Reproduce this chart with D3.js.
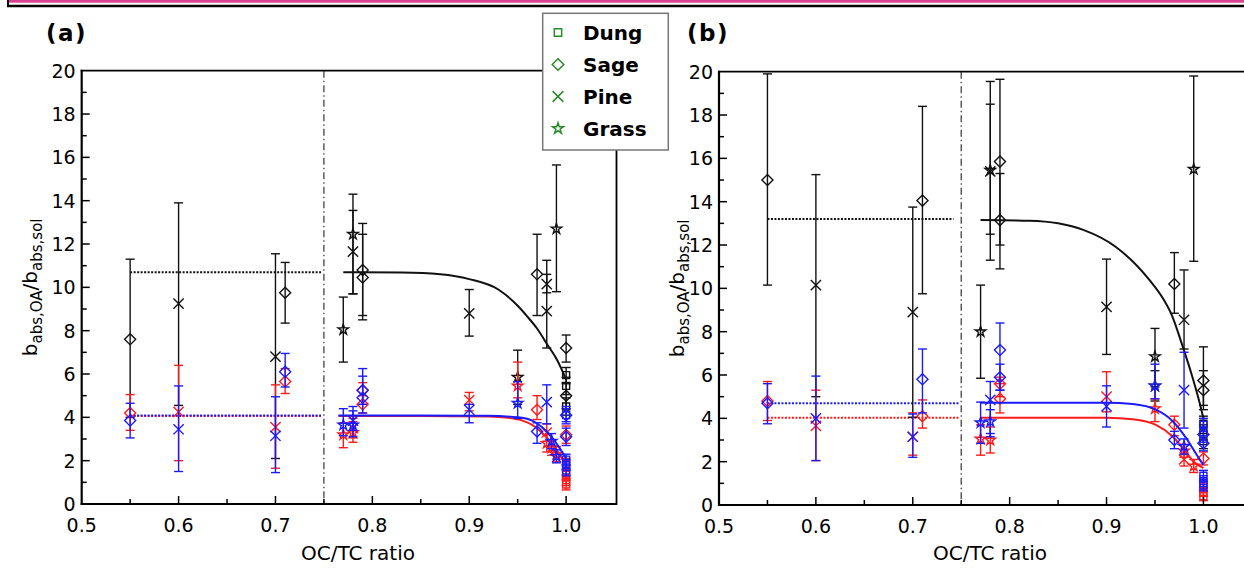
<!DOCTYPE html>
<html lang="en">
<head>
  <meta charset="UTF-8">
  <title>OC/TC ratio</title>
  <script src="https://cdn.jsdelivr.net/npm/d3@7"></script>
  <style>
  body { margin: 0; background: #fff; }
  svg text { font-family: "DejaVu Sans", Verdana, sans-serif; fill: #000; }
  .tick-label { font-size: 19px; }
  .axis-title { font-size: 20px; }
  .panel-tag { font-size: 23px; font-weight: bold; letter-spacing: 1.5px; }
  .legend text { font-size: 20px; font-weight: bold; }
  </style>
</head>
<body>
<svg id="chart" width="1244" height="572"></svg>
<script>
// [OC/TC, value, lower, upper, source]   D = Dung, S = Sage, P = Pine, G = Grass
const aBlack = [
  [0.55, 7.6, 4.0, 11.3, 'S'], [0.60, 9.25, 4.55, 13.9, 'P'], [0.70, 6.8, 2.1, 11.55, 'P'],
  [0.71, 9.75, 8.35, 11.15, 'S'], [0.77, 8.05, 6.55, 9.55, 'G'], [0.78, 12.45, 9.7, 14.3, 'G'],
  [0.78, 11.65, 9.7, 13.55, 'P'], [0.79, 10.8, 8.5, 12.95, 'S'], [0.79, 10.45, 8.7, 12.45, 'S'],
  [0.90, 8.8, 7.75, 9.9, 'P'], [0.95, 5.85, 4.6, 7.1, 'G'], [0.97, 10.6, 8.7, 12.45, 'S'],
  [0.98, 10.15, 9.75, 11.25, 'P'], [0.98, 8.9, 7.2, 10.6, 'P'], [0.99, 12.7, 9.8, 15.65, 'G'],
  [1.00, 7.2, 6.55, 7.8, 'S'], [1.00, 5.0, 4.4, 5.6, 'S'], [1.00, 5.95, 5.55, 6.3, 'D'],
  [1.00, 5.45, 5.05, 5.85, 'D'], [1.00, 4.5, 4.1, 4.9, 'D']
];
const aRed = [
  [0.55, 4.2, 3.4, 5.05, 'S'], [0.60, 4.25, 2.0, 6.4, 'P'], [0.70, 3.55, 1.65, 5.5, 'P'],
  [0.71, 5.65, 5.1, 6.25, 'S'], [0.77, 3.2, 2.6, 3.75, 'G'], [0.78, 3.3, 2.85, 3.8, 'G'],
  [0.78, 3.5, 3.05, 3.95, 'P'], [0.79, 5.25, 4.6, 5.6, 'S'], [0.79, 4.6, 4.2, 5.0, 'S'],
  [0.90, 4.8, 4.3, 5.15, 'P'], [0.95, 5.45, 4.9, 6.55, 'G'], [0.97, 4.35, 3.9, 5.0, 'S'],
  [0.98, 3.3, 2.9, 3.7, 'P'], [0.98, 2.8, 2.4, 3.2, 'G'], [0.985, 2.6, 2.25, 2.95, 'G'],
  [0.99, 2.3, 1.95, 2.65, 'G'], [1.00, 3.2, 2.8, 3.6, 'S'], [1.00, 1.85, 1.6, 2.1, 'D'],
  [1.00, 1.35, 1.1, 1.6, 'D'], [1.00, 1.1, 0.85, 1.35, 'D'], [1.00, 0.9, 0.65, 1.15, 'D']
];
const aBlue = [
  [0.55, 3.85, 3.05, 4.65, 'S'], [0.60, 3.45, 1.5, 5.45, 'P'], [0.70, 3.15, 1.45, 4.95, 'P'],
  [0.71, 6.1, 5.4, 6.95, 'S'], [0.77, 3.65, 3.15, 4.4, 'G'], [0.78, 3.65, 3.1, 4.5, 'G'],
  [0.78, 3.85, 3.4, 4.3, 'P'], [0.79, 4.9, 4.2, 6.25, 'S'], [0.79, 5.25, 4.6, 5.9, 'S'],
  [0.90, 4.35, 3.75, 4.6, 'P'], [0.95, 4.65, 3.95, 5.65, 'G'], [0.97, 3.35, 2.8, 3.75, 'S'],
  [0.98, 4.7, 3.7, 5.5, 'P'], [0.985, 2.9, 2.55, 3.25, 'G'], [0.99, 2.2, 1.9, 2.5, 'G'],
  [1.00, 4.1, 3.7, 4.5, 'S'], [1.00, 3.1, 2.7, 3.5, 'S'], [1.00, 4.1, 3.8, 4.4, 'D'],
  [1.00, 2.05, 1.8, 2.3, 'D'], [1.00, 1.8, 1.55, 2.05, 'D'], [1.00, 1.55, 1.3, 1.8, 'D']
];

const bBlack = [
  [0.55, 15.0, 10.15, 19.9, 'S'], [0.60, 10.15, 5.0, 15.25, 'P'], [0.70, 8.9, 4.05, 13.75, 'P'],
  [0.71, 14.05, 9.75, 18.4, 'S'], [0.77, 8.0, 5.85, 10.15, 'G'], [0.78, 15.45, 11.3, 19.55, 'G'],
  [0.78, 15.4, 12.5, 18.5, 'P'], [0.79, 15.85, 12.0, 19.65, 'S'], [0.79, 13.15, 10.9, 15.3, 'S'],
  [0.90, 9.15, 6.95, 11.35, 'P'], [0.95, 6.85, 5.45, 8.15, 'G'], [0.95, 5.5, 4.8, 6.2, 'G'],
  [0.97, 10.2, 8.85, 11.65, 'S'], [0.98, 8.55, 7.2, 10.85, 'P'], [0.99, 15.5, 11.25, 19.8, 'G'],
  [1.00, 5.75, 4.6, 7.3, 'S'], [1.00, 5.3, 4.4, 6.2, 'S'], [1.00, 3.75, 3.4, 4.1, 'D'],
  [1.00, 3.35, 3.0, 3.7, 'D'], [1.00, 2.95, 2.6, 3.3, 'D']
];
const bRed = [
  [0.55, 4.8, 3.9, 5.7, 'S'], [0.60, 3.65, 2.05, 5.3, 'P'], [0.70, 3.15, 2.3, 4.25, 'P'],
  [0.71, 4.1, 3.55, 4.85, 'S'], [0.77, 3.05, 2.3, 3.7, 'G'], [0.78, 3.0, 2.4, 3.6, 'G'],
  [0.79, 4.9, 4.25, 5.6, 'S'], [0.79, 5.6, 5.0, 5.9, 'S'], [0.90, 5.0, 4.3, 6.15, 'P'],
  [0.95, 4.45, 3.85, 4.9, 'G'], [0.97, 3.7, 3.2, 4.1, 'S'], [0.98, 2.1, 1.8, 2.4, 'P'],
  [0.98, 2.5, 2.2, 2.8, 'G'], [0.99, 1.8, 1.5, 2.1, 'G'], [1.00, 2.15, 1.85, 2.45, 'S'],
  [1.00, 0.85, 0.65, 1.05, 'D'], [1.00, 0.6, 0.4, 0.8, 'D'], [1.00, 0.4, 0.2, 0.6, 'D']
];
const bBlue = [
  [0.55, 4.7, 3.75, 5.6, 'S'], [0.60, 4.0, 2.05, 5.95, 'P'], [0.70, 3.15, 2.2, 4.2, 'P'],
  [0.71, 5.8, 4.25, 7.2, 'S'], [0.77, 3.8, 2.85, 4.75, 'G'], [0.78, 4.85, 3.15, 5.7, 'P'],
  [0.78, 3.85, 3.3, 4.4, 'G'], [0.79, 7.15, 5.3, 8.4, 'S'], [0.79, 5.9, 5.3, 6.5, 'S'],
  [0.90, 4.55, 3.6, 5.5, 'P'], [0.95, 5.5, 4.9, 6.5, 'G'], [0.97, 3.0, 2.6, 3.4, 'S'],
  [0.98, 5.3, 3.55, 7.05, 'P'], [0.98, 2.7, 2.35, 3.05, 'G'], [1.00, 3.25, 2.9, 3.6, 'S'],
  [1.00, 2.85, 2.5, 3.2, 'S'], [1.00, 3.7, 3.4, 4.0, 'D'], [1.00, 1.35, 1.1, 1.6, 'D'],
  [1.00, 1.1, 0.85, 1.35, 'D'], [1.00, 0.9, 0.65, 1.15, 'D']
];

// fitted curves
const aBlackCurve = [[0.77, 10.7], [0.83, 10.68], [0.87, 10.6], [0.90, 10.38], [0.93, 9.9], [0.95, 9.15],
  [0.96, 8.65], [0.97, 8.1], [0.98, 7.4], [0.99, 6.7], [0.995, 6.25], [1.0, 5.75]];
const aRedCurve = [[0.765, 4.06], [0.85, 4.06], [0.92, 4.04], [0.94, 3.98], [0.955, 3.85], [0.965, 3.65],
  [0.975, 3.3], [0.985, 2.8], [0.993, 2.3], [1.0, 1.8]];
const aBlueCurve = [[0.765, 4.08], [0.85, 4.08], [0.92, 4.07], [0.95, 4.0], [0.965, 3.85], [0.975, 3.55],
  [0.985, 3.1], [0.993, 2.6], [1.0, 2.1]];
const bBlackCurve = [[0.77, 13.15], [0.82, 13.12], [0.85, 13.0], [0.876, 12.7], [0.91, 11.9], [0.944, 10.4],
  [0.958, 9.55], [0.968, 8.7], [0.978, 7.4], [0.988, 6.0], [0.995, 4.9], [1.0, 4.0]];
const bRedCurve = [[0.77, 4.03], [0.90, 4.03], [0.927, 3.96], [0.951, 3.7], [0.968, 3.17], [0.98, 2.55],
  [0.99, 2.0], [1.0, 1.7]];
const bBlueCurve = [[0.77, 4.72], [0.90, 4.72], [0.927, 4.66], [0.951, 4.4], [0.968, 3.88], [0.982, 3.1],
  [0.994, 2.25], [1.0, 1.85]];

// dotted means for OC/TC < 0.75: [from, to, value]
const aMeans = { black: [0.55, 0.747, 10.7], red: [0.55, 0.747, 4.06], blue: [0.55, 0.747, 4.08] };
const bMeans = { black: [0.55, 0.742, 13.2], red: [0.55, 0.748, 4.03], blue: [0.55, 0.748, 4.7] };

const yTicks = d3.range(0, 21, 2);
const xTicks = [0.5, 0.6, 0.7, 0.8, 0.9, 1.0];
const legendNames = ['Dung', 'Sage', 'Pine', 'Grass'];
const legendCodes = ['D', 'S', 'P', 'G'];

const svg = d3.select('#chart');
const colors = { black: '#111', red: '#ff1a1a', blue: '#1a1aff' };

const symbolFor = {
  D: d3.symbolSquare2 || d3.symbolSquare,
  S: d3.symbolDiamond2 || d3.symbolDiamond,
  P: d3.symbolTimes || d3.symbolCross,
  G: d3.symbolStar
};
const sizeFor = { D: 62, S: 78, P: 70, G: 34 };

// top decoration
svg.append('rect').attr('x', 9).attr('y', 0).attr('width', 1235).attr('height', 2.7).attr('fill', '#d8418f');
svg.append('line').attr('x1', 7).attr('x2', 1244).attr('y1', 6).attr('y2', 6).attr('stroke', '#000').attr('stroke-width', 2.4);
svg.append('line').attr('x1', 8).attr('x2', 8).attr('y1', 0).attr('y2', 7).attr('stroke', '#000').attr('stroke-width', 2);

function drawPanel(opt) {
  const x = d3.scaleLinear().domain([0.5, 1.052]).range([opt.left, opt.left + 534.8]);
  const y = d3.scaleLinear().domain([0, 20]).range([opt.bottom, opt.top]);
  const g = svg.append('g');
  const x0 = x(0.5), x1 = x(1.052);

  // divider at 0.75
  g.append('line').attr('x1', x(0.75)).attr('x2', x(0.75)).attr('y1', y(20)).attr('y2', y(0))
    .attr('stroke', '#333').attr('stroke-width', 1.2).attr('stroke-dasharray', '7,3,1.5,3');

  // dotted means
  Object.entries(opt.means).forEach(([k, m]) => {
    g.append('line').attr('x1', x(m[0])).attr('x2', x(m[1])).attr('y1', y(m[2])).attr('y2', y(m[2]))
      .attr('stroke', colors[k]).attr('stroke-width', 2).attr('stroke-dasharray', '2,1.5');
  });

  const series = [['black', opt.black, opt.blackCurve], ['red', opt.red, opt.redCurve], ['blue', opt.blue, opt.blueCurve]];
  const line = d3.line().x(d => x(d[0])).y(d => y(d[1])).curve(d3.curveMonotoneX);

  series.forEach(([k, pts, curve]) => {
    const c = colors[k];
    const s = g.append('g').attr('stroke', c).attr('fill', 'none').attr('stroke-width', 1.4);
    pts.forEach(d => {
      const px = x(d[0]);
      s.append('line').attr('x1', px).attr('x2', px).attr('y1', y(d[2])).attr('y2', y(d[3]));
      [d[2], d[3]].forEach(v => {
        s.append('line').attr('x1', px - 4.5).attr('x2', px + 4.5).attr('y1', y(v)).attr('y2', y(v));
      });
      s.append('path')
        .attr('d', d3.symbol().type(symbolFor[d[4]]).size(sizeFor[d[4]])())
        .attr('transform', `translate(${px},${y(d[1])})`);
    });
    g.append('path').datum(curve).attr('d', line)
      .attr('fill', 'none').attr('stroke', c).attr('stroke-width', 2);
  });

  // axes frame
  const ax = g.append('g').attr('stroke', '#000');
  ax.append('line').attr('x1', x0).attr('x2', x0).attr('y1', y(20) - 1).attr('y2', y(0) + 1).attr('stroke-width', 2.2);
  ax.append('line').attr('x1', x0 - 1).attr('x2', x1).attr('y1', y(0)).attr('y2', y(0)).attr('stroke-width', 2.2);
  ax.append('line').attr('x1', x0 - 1).attr('x2', x1).attr('y1', y(20)).attr('y2', y(20)).attr('stroke-width', 1.8);
  if (opt.rightFrame) {
    ax.append('line').attr('x1', x1).attr('x2', x1).attr('y1', y(20)).attr('y2', y(0) + 1).attr('stroke-width', 1.8);
  }

  // y ticks
  d3.range(0, 21, 1).forEach(v => {
    const len = v % 2 === 0 ? 8 : 5;
    if (v > 0 && v < 20) ax.append('line').attr('x1', x0).attr('x2', x0 + len).attr('y1', y(v)).attr('y2', y(v)).attr('stroke-width', 1.5);
  });
  yTicks.forEach(v => {
    g.append('text').attr('class', 'tick-label').attr('x', x0 - 6).attr('y', y(v)).attr('dy', '0.36em')
      .attr('text-anchor', 'end').text(v);
  });

  // x ticks
  d3.range(0.5, 1.0001, 0.05).forEach((v, i) => {
    const len = i % 2 === 0 ? 8 : 5;
    if (i > 0) ax.append('line').attr('x1', x(v)).attr('x2', x(v)).attr('y1', y(0)).attr('y2', y(0) - len).attr('stroke-width', 1.5);
  });
  xTicks.forEach(v => {
    g.append('text').attr('class', 'tick-label').attr('x', x(v)).attr('y', y(0) + 28)
      .attr('text-anchor', 'middle').text(v.toFixed(1));
  });

  g.append('text').attr('class', 'axis-title').attr('x', opt.xTitleX).attr('y', 560)
    .attr('text-anchor', 'middle').text('OC/TC ratio');

  const yl = g.append('text').attr('class', 'axis-title')
    .attr('transform', `translate(${opt.yTitleX},${(y(0) + y(20)) / 2}) rotate(-90)`)
    .attr('text-anchor', 'middle');
  yl.append('tspan').text('b');
  yl.append('tspan').attr('font-size', 15).attr('dy', 5).text('abs,OA');
  yl.append('tspan').attr('dy', -5).text('/b');
  yl.append('tspan').attr('font-size', 15).attr('dy', 5).text('abs,sol');

  g.append('text').attr('class', 'panel-tag').attr('x', opt.tagX).attr('y', 41).text(opt.tag);
}

drawPanel({
  left: 81.7, top: 70.7, bottom: 504, rightFrame: true, tag: '(a)', tagX: 46, xTitleX: 358, yTitleX: 37,
  black: aBlack, red: aRed, blue: aBlue, means: aMeans,
  blackCurve: aBlackCurve, redCurve: aRedCurve, blueCurve: aBlueCurve
});
drawPanel({
  left: 719, top: 71.7, bottom: 505, rightFrame: false, tag: '(b)', tagX: 687, xTitleX: 990, yTitleX: 684,
  black: bBlack, red: bRed, blue: bBlue, means: bMeans,
  blackCurve: bBlackCurve, redCurve: bRedCurve, blueCurve: bBlueCurve
});

// legend
const lg = svg.append('g').attr('class', 'legend');
lg.append('rect').attr('x', 542.7).attr('y', 13.3).attr('width', 125.6).attr('height', 136.7)
  .attr('fill', '#fff').attr('stroke', '#777').attr('stroke-width', 1.5);
legendNames.forEach((name, i) => {
  const cy = 32.5 + i * 32;
  const code = legendCodes[i];
  lg.append('path')
    .attr('d', d3.symbol().type(symbolFor[code]).size(sizeFor[code] * 1.1)())
    .attr('transform', `translate(558,${cy})`)
    .attr('fill', 'none').attr('stroke', '#2a8a2a').attr('stroke-width', 1.5);
  lg.append('text').attr('x', 583).attr('y', cy).attr('dy', '0.36em').text(name);
});
</script>
</body>
</html>
